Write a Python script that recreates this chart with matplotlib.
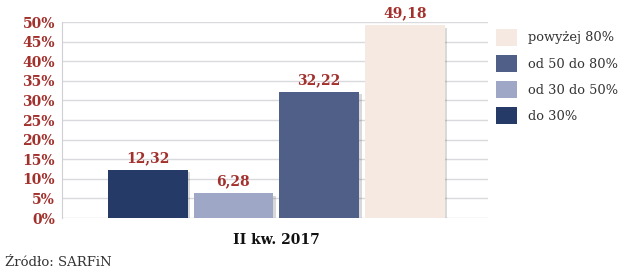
import matplotlib
matplotlib.use("Agg")
import matplotlib.pyplot as plt
from matplotlib.patches import Patch
import matplotlib.patheffects as pe

categories = ["do 30%", "od 30 do 50%", "od 50 do 80%", "powyżej 80%"]
values = [12.32, 6.28, 32.22, 49.18]
value_labels = ["12,32", "6,28", "32,22", "49,18"]
colors = ["#253a66", "#9ea7c5", "#4f5f88", "#f6e9e1"]
period = "II kw. 2017"
yticks = [0, 5, 10, 15, 20, 25, 30, 35, 40, 45, 50]
source = "Źródło: SARFiN"

red = "#a2312d"
fig = plt.figure(figsize=(6.4, 2.78), dpi=100)
ax = fig.add_axes([62/640, 1-218/278, (488-62)/640, (218-22)/278])

x = list(range(len(values)))
shadow = [pe.SimplePatchShadow(offset=(2, -2), shadow_rgbFace="#000000", alpha=0.15), pe.Normal()]
for xi, v, c, lab in zip(x, values, colors, value_labels):
    ax.bar(xi, v, width=0.93, color=c, zorder=3, path_effects=shadow)
    ax.text(xi, v + 1.2, lab, ha="center", va="bottom", color=red,
            fontsize=10, fontweight="bold", family="DejaVu Serif", zorder=4)

ax.set_xlim(-1.0, 3.97)
ax.set_ylim(0, 50)
ax.set_yticks(yticks)
ax.set_yticklabels([f"{t}%" for t in yticks], color=red, fontsize=10,
                   fontweight="bold", family="DejaVu Serif")
ax.set_xticks([])
ax.grid(axis="y", color="#d9dade", linewidth=1, zorder=0)
for s in ["top", "right", "bottom"]:
    ax.spines[s].set_visible(False)
ax.spines["left"].set_color("#d0d0d4")
ax.tick_params(axis="y", length=0, pad=5)

ax.text(1.5, -5.5, period, ha="center", va="center", fontsize=10,
        fontweight="bold", family="DejaVu Serif", color="#111111")
fig.text(5/640, 1-263/278, source, ha="left", va="center", fontsize=9.5,
         family="DejaVu Serif", color="#333333")

handles = [Patch(facecolor=colors[i], edgecolor="none", label=categories[i]) for i in reversed(range(4))]
leg = fig.legend(handles=handles, loc="upper left", bbox_to_anchor=(484/640, 1-17/278),
                 frameon=False, handlelength=1.6, handleheight=1.6,
                 labelspacing=0.72, handletextpad=0.9, prop={"family": "DejaVu Serif", "size": 9.4})
for t in leg.get_texts():
    t.set_color("#333333")

fig.savefig("out.png", dpi=100)
